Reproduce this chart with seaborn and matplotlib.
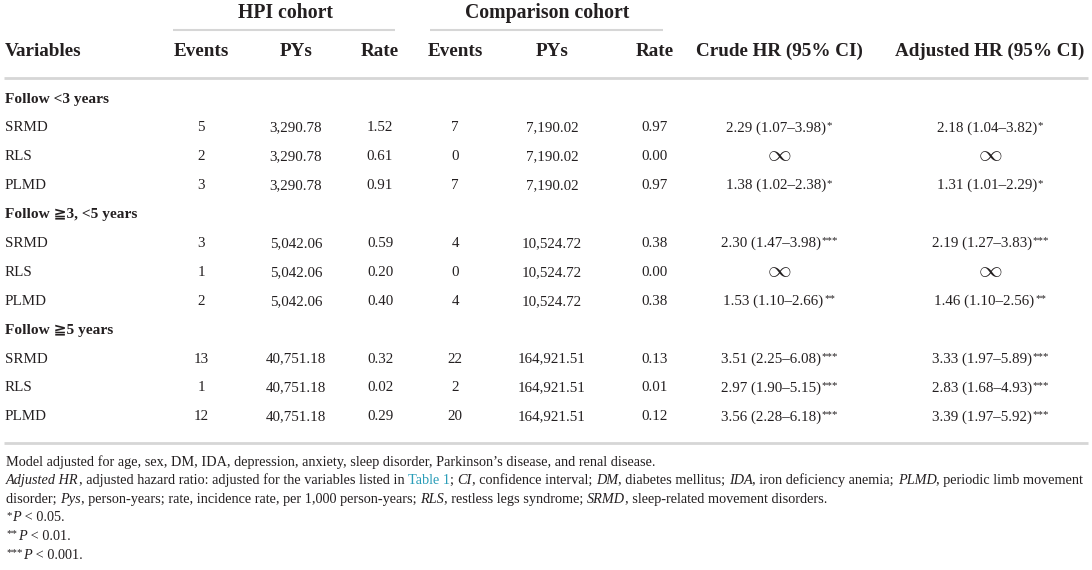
import seaborn as sns
import matplotlib.pyplot as plt

# Données du tableau
variables = ["SRMD", "RLS", "PLMD"]
groups = ["Follow <3 years", "Follow \u22673, <5 years", "Follow \u22675 years"]
hpi_events = [5, 2, 3, 3, 1, 2, 13, 1, 12]
hpi_pys = [3290.78, 5042.06, 40751.18]
hpi_rate = [1.52, 0.61, 0.91, 0.59, 0.20, 0.40, 0.32, 0.02, 0.29]
cmp_events = [7, 0, 7, 4, 0, 4, 22, 2, 20]
cmp_pys = [7190.02, 10524.72, 164921.51]
cmp_rate = [0.97, 0.00, 0.97, 0.38, 0.00, 0.38, 0.13, 0.01, 0.12]
crude_hr = [2.29, None, 1.38, 2.30, None, 1.53, 3.51, 2.97, 3.56]
crude_lo = [1.07, None, 1.02, 1.47, None, 1.10, 2.25, 1.90, 2.28]
crude_hi = [3.98, None, 2.38, 3.98, None, 2.66, 6.08, 5.15, 6.18]
adj_hr = [2.18, None, 1.31, 2.19, None, 1.46, 3.33, 2.83, 3.39]
adj_lo = [1.04, None, 1.01, 1.27, None, 1.10, 1.97, 1.68, 1.97]
adj_hi = [3.82, None, 2.29, 3.83, None, 2.56, 5.89, 4.93, 5.92]
sig = ["*", "", "*", "***", "", "**", "***", "***", "***"]

col_headers = ["Events", "PYs", "Rate", "Events", "PYs", "Rate",
               "Crude HR (95% CI)", "Adjusted HR (95% CI)"]
cohorts = ["HPI cohort", "Comparison cohort"]

footnotes = [
    [("Model adjusted for age, sex, DM, IDA, depression, anxiety, sleep disorder, "
      "Parkinson\u2019s disease, and renal disease.", "n")],
    [("Adjusted HR", "i"), (", adjusted hazard ratio: adjusted for the variables listed in ", "n"),
     ("Table 1", "link"), ("; ", "n"), ("CI", "i"), (", confidence interval; ", "n"),
     ("DM", "i"), (", diabetes mellitus; ", "n"), ("IDA", "i"), (", iron deficiency anemia; ", "n"),
     ("PLMD", "i"), (", periodic limb movement", "n")],
    [("disorder; ", "n"), ("Pys", "i"),
     (", person-years; rate, incidence rate, per 1,000 person-years; ", "n"),
     ("RLS", "i"), (", restless legs syndrome; ", "n"), ("SRMD", "i"),
     (", sleep-related movement disorders.", "n")],
    [("*", "sup"), ("P", "i"), (" < 0.05.", "n")],
    [("**", "sup"), ("P", "i"), (" < 0.01.", "n")],
    [("***", "sup"), ("P", "i"), (" < 0.001.", "n")],
]

sns.set_theme(style="white")
plt.rcParams['font.family'] = ['Liberation Serif', 'DejaVu Serif', 'DejaVu Sans']

fig = plt.figure(figsize=(10.92, 5.70), dpi=100)
ax = fig.add_axes([0, 0, 1, 1])
ax.set_xlim(0, 1092)
ax.set_ylim(570, 0)
ax.axis("off")
renderer = fig.canvas.get_renderer()

txt = "#231f20"
line_col = "#d6d6d6"
group_size = 14.2
head_size = 13.8
body_size = 10.8
star_size = 7.8
note_size = 10.25

col_x = [201, 296, 380, 455, 552, 655, 779, 990]
left_x = 5


def run_width(s, kw):
    # largeur d'un bout de texte, espaces compris
    t1 = ax.text(0, 0, "|" + s + "|", **kw)
    t2 = ax.text(0, 0, "||", **kw)
    w = t1.get_window_extent(renderer).width - t2.get_window_extent(renderer).width
    t1.remove()
    t2.remove()
    return w


# En-têtes
ax.text(285, 13, cohorts[0], ha="center", va="center", fontsize=group_size,
        fontweight="bold", color=txt)
ax.text(547, 13, cohorts[1], ha="center", va="center", fontsize=group_size,
        fontweight="bold", color=txt)
ax.hlines(30, 173, 395, color=line_col, lw=1.5)
ax.hlines(30, 430, 663, color=line_col, lw=1.5)
ax.text(left_x, 51, "Variables", ha="left", va="center", fontsize=head_size,
        fontweight="bold", color=txt)
for x, h in zip(col_x, col_headers):
    ax.text(x, 51, h, ha="center", va="center", fontsize=head_size,
            fontweight="bold", color=txt)
ax.hlines(78, 4, 1088, color=line_col, lw=2)


def draw_hr(x, y, hr, lo, hi, s):
    if hr is None:
        ax.text(x, y - 2, r"$\infty$", ha="center", va="center", fontsize=17,
                math_fontfamily="cm", color=txt)
        return
    main = f"{hr:.2f} ({lo:.2f}\u2013{hi:.2f})"
    kw_main = dict(fontsize=body_size, color=txt)
    kw_star = dict(fontsize=star_size, color=txt)
    w1 = run_width(main, kw_main)
    w2 = run_width(s, kw_star)
    x0 = x - (w1 + w2) / 2
    ax.text(x0, y, main, ha="left", va="center", **kw_main)
    ax.text(x0 + w1 + 0.5, y - 2.5, s, ha="left", va="center", **kw_star)


# Lignes du tableau
y = 99
step = 28.9
for g, group in enumerate(groups):
    ax.text(left_x, y, group, ha="left", va="center", fontsize=body_size + 0.3,
            fontweight="bold", color=txt)
    y += step
    for v, var in enumerate(variables):
        i = g * 3 + v
        cells = [
            str(hpi_events[i]), f"{hpi_pys[g]:,.2f}", f"{hpi_rate[i]:.2f}",
            str(cmp_events[i]), f"{cmp_pys[g]:,.2f}", f"{cmp_rate[i]:.2f}",
        ]
        ax.text(left_x, y, var, ha="left", va="center", fontsize=body_size, color=txt)
        for x, c in zip(col_x[:6], cells):
            ax.text(x, y, c, ha="center", va="center", fontsize=body_size, color=txt)
        draw_hr(col_x[6], y, crude_hr[i], crude_lo[i], crude_hi[i], sig[i])
        draw_hr(col_x[7], y, adj_hr[i], adj_lo[i], adj_hi[i], sig[i])
        y += step

ax.hlines(443, 4, 1088, color=line_col, lw=2)


# Notes de bas de tableau (texte mixte romain / italique)
def run_style(kind):
    kw = dict(fontsize=note_size, color=txt)
    if kind == "i":
        kw["fontstyle"] = "italic"
    if kind == "link":
        kw["color"] = "#2a9db8"
    if kind == "sup":
        kw["fontsize"] = star_size
    return kw


note_y = 462
for runs in footnotes:
    x = 6
    for s, kind in runs:
        kw = run_style(kind)
        dy = -2.5 if kind == "sup" else 0
        ax.text(x, note_y + dy, s, ha="left", va="center", **kw)
        x += run_width(s, kw) + (1 if kind == "sup" else 0)
    note_y += 18.6

fig.savefig("out.png", dpi=100)
